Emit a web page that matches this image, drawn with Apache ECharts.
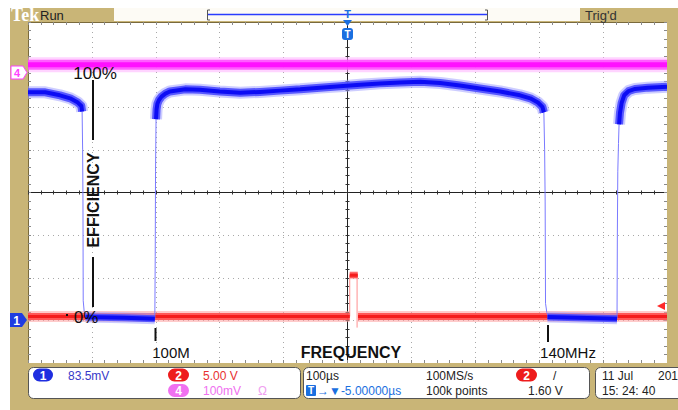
<!DOCTYPE html>
<html><head><meta charset="utf-8">
<script src="https://cdn.jsdelivr.net/npm/echarts@6/dist/echarts.min.js"></script>
<style>html,body{margin:0;padding:0;background:#fff}#c{width:678px;height:410px}</style>
</head><body><div id="c"></div>
<script>
// x: time in microseconds (100 us/div, 10 divisions), y: screen divisions (8 divisions)
const timeRange = [-500, 500];
const divRange = [-4, 4];

// Channel 4 (magenta)
const ch4Trace = [[-500, 3.0], [500, 3.0]];

// Channel 2 (red) trigger signal
const ch2Low1 = [[-500, -2.91], [3.5, -2.91]];
const ch2Rise = [[3.5, -2.91], [3.5, -1.94]];
const ch2Pulse = [[3.5, -1.94], [16, -1.94]];
const ch2Fall = [[15, -1.94], [15, -3.17]];
const ch2Low2 = [[16.5, -2.91], [500, -2.91]];

// Channel 1 (blue) efficiency trace
const ch1High1 = [[-500, 2.35], [-473, 2.35], [-450, 2.28], [-434, 2.21], [-422, 2.11], [-416.5, 2.03], [-415.3, 1.9]];
const ch1Fall1 = [[-415.3, 1.9], [-414.5, 1.0], [-414, -0.2], [-413.6, -2.54], [-412, -2.8], [-409, -2.92]];
const ch1Low1 = [[-410, -2.92], [-350, -2.94], [-301.5, -2.96]];
const ch1Rise1 = [[-301.5, -2.96], [-300.9, -1.5], [-300.4, 0.5], [-299.6, 1.72]];
const ch1High2 = [[-299.6, 1.72], [-298.8, 1.95], [-297.5, 2.08], [-295, 2.17], [-291, 2.25], [-285, 2.32],
  [-278, 2.37], [-254, 2.42], [-231, 2.41], [-200, 2.37],
  [-168, 2.34], [-137, 2.36], [-106, 2.39], [-74, 2.42], [-43, 2.46], [-12, 2.49], [20, 2.53],
  [51, 2.56], [82, 2.58], [114, 2.6], [145, 2.57], [176, 2.51], [207, 2.44], [239, 2.37],
  [270, 2.28], [286, 2.21], [298, 2.11], [305, 2.01], [307.3, 1.88]];
const ch1Fall2 = [[307.3, 1.88], [308.5, 1.0], [309.3, -0.2], [309.9, -2.6], [312, -2.82], [315, -2.92]];
const ch1Low2 = [[313, -2.92], [360, -2.94], [421.8, -2.96]];
const ch1Rise2 = [[421.8, -2.96], [422.3, -1.0], [423, 0.5], [424.1, 1.15], [425, 1.6]];
const ch1High3 = [[425, 1.6], [426.4, 1.87], [429, 2.1], [433, 2.28], [440, 2.38], [450, 2.43],
  [470, 2.46], [500, 2.48]];

const chart = echarts.init(document.getElementById('c'), null, {renderer: 'svg'});

function line(data, color, width, z, opacity) {
  return {type: 'line', data: data, symbol: 'none', silent: true, animation: false, z: z,
    lineStyle: {color: color, width: width, cap: 'butt', join: 'round', opacity: opacity == null ? 1 : opacity}};
}
function band3(data, c, z, w) {
  return [line(data, c[0], w[0], z, 0.55), line(data, c[1], w[1], z + 0.1, 0.9),
    line(data, c[2], w[2], z + 0.2, 1)];
}
const blueC = ['#a4a4ff', '#4a4aff', '#0c0cf4'];
const blueW = [12, 8, 4];
const redC = ['#ffa0a0', '#ff4a4a', '#f41c1c'];
const redW = [11, 7, 3];
const magC = ['#ffb0ff', '#ff50ff', '#ff10ff'];
const magW = [15, 10, 5];

const series = [].concat(
  band3(ch4Trace, magC, 3, magW),
  band3(ch2Low1, redC, 4, redW),
  [line(ch2Rise, '#ff9090', 1, 4)],
  band3(ch2Pulse, redC, 4, [8, 6, 3]),
  [line(ch2Fall, '#ff9090', 1, 4)],
  band3(ch2Low2, redC, 4, redW),
  band3(ch1High1, blueC, 5, blueW),
  [line(ch1Fall1, '#7a7aff', 1, 5)],
  band3(ch1Low1, blueC, 5, [11, 7, 4]),
  [line(ch1Rise1, '#7a7aff', 1, 5)],
  band3(ch1High2, blueC, 5, blueW),
  [line(ch1Fall2, '#7a7aff', 1, 5)],
  band3(ch1Low2, blueC, 5, [11, 7, 4]),
  [line(ch1Rise2, '#7a7aff', 1, 5)],
  band3(ch1High3, blueC, 5, blueW)
);

const tickGray = {color: '#8a8a8a', width: 1};
const tickDark = {color: '#333', width: 1};
function xAx(extra) {
  return Object.assign({type: 'value', min: timeRange[0], max: timeRange[1], interval: 100,
    axisLabel: {show: false}, splitLine: {show: false}}, extra);
}
function yAx(extra) {
  return Object.assign({type: 'value', min: divRange[0], max: divRange[1], interval: 1,
    axisLabel: {show: false}, splitLine: {show: false}}, extra);
}
const dotted = {show: true, lineStyle: {color: '#a8a8a8', width: 1, type: [1, 4]}};

const TAN = '#c9b577';
function txt(x, y, s, font, fill, align, extra) {
  return Object.assign({type: 'text', x: x, y: y, z: 50,
    style: {text: s, font: font, fill: fill, align: align || 'left', verticalAlign: 'middle',
      textAlign: align || 'left', textVerticalAlign: 'middle'}}, extra || {});
}
function rect(x, y, w, h, fill, stroke, r, z) {
  return {type: 'rect', z: z || 40, shape: {x: x, y: y, width: w, height: h, r: r || 0},
    style: {fill: fill, stroke: stroke || null, lineWidth: stroke ? 1 : 0}};
}
function badge(x, y, w, h, fill, s) {
  return [rect(x, y, w, h, fill, null, h / 2, 45),
    txt(x + w / 2, y + h / 2 + 0.5, s, 'bold 12px "Liberation Sans", Arial', '#fff', 'center')];
}
function poly(points, fill, stroke, z) {
  return {type: 'polygon', z: z || 45, shape: {points: points},
    style: {fill: fill, stroke: stroke || null, lineWidth: stroke ? 1 : 0}};
}
function seg(x1, y1, x2, y2, color, w) {
  return {type: 'line', z: 50, shape: {x1: x1, y1: y1, x2: x2, y2: y2},
    style: {stroke: color, lineWidth: w}};
}

const F = '12px "Liberation Sans", Arial, sans-serif';
const graphic = [].concat(
  [
    // frame
    rect(10, 8, 668, 14, TAN),
    rect(10, 8, 18, 402, TAN),
    rect(667, 8, 11, 402, TAN),
    rect(10, 363, 668, 47, TAN),
    // top bar
    txt(11, 15, 'Tek', 'bold 18px "Liberation Serif", serif', '#ffffff'),
    txt(40, 15, 'Run', '13px "Liberation Sans", Arial', '#222'),
    rect(114, 8, 466, 13, '#fdfbf5'),
    seg(208, 14.5, 487, 14.5, '#2a3cff', 1.5),
    seg(207.5, 10, 207.5, 20, '#555', 1), seg(207.5, 10, 210, 10, '#555', 1), seg(207.5, 20, 210, 20, '#555', 1),
    seg(487.5, 10, 487.5, 20, '#555', 1), seg(487.5, 10, 485, 10, '#555', 1), seg(487.5, 20, 485, 20, '#555', 1),
    txt(585, 15, "Trig'd", '13px "Liberation Sans", Arial', '#333'),
    txt(347.5, 14, 'T', 'bold 11px "Liberation Sans", Arial', '#1a6fe0', 'center'),
    poly([[343, 20], [352, 20], [347.5, 26]], '#1a6fe0'),
    rect(342, 28, 11, 12, '#1a6fe0', null, 3, 45),
    txt(347.5, 34.5, 'T', 'bold 10px "Liberation Sans", Arial', '#fff', 'center'),
    // left channel markers
    poly([[11, 66], [23, 66], [27, 72.5], [23, 79], [11, 79]], '#ffffff', '#ff40ff'),
    txt(17, 72.5, '4', 'bold 11px "Liberation Sans", Arial', '#ff40ff', 'center'),
    poly([[10, 313], [22, 313], [27, 320], [22, 327], [10, 327]], '#1f3ce0'),
    txt(16.5, 320.5, '1', 'bold 12px "Liberation Sans", Arial', '#fff', 'center'),
    // trigger level arrow
    poly([[657, 306], [665, 302], [665, 310]], '#ff2a2a'),
    // annotations
    txt(95, 73, '100%', '17px "Liberation Sans", Arial', '#111', 'center'),
    seg(93, 80, 93, 140, '#111', 2),
    txt(93, 200, 'EFFICIENCY', 'bold 16px "Liberation Sans", Arial', '#111', 'center', {rotation: Math.PI / 2}),
    seg(93, 257, 93, 307, '#111', 2),
    rect(66, 314, 2, 2, '#111', null, 0, 50),
    txt(86, 317, '0%', '17px "Liberation Sans", Arial', '#111', 'center'),
    seg(155.5, 328, 155.5, 341, '#111', 2),
    txt(171, 352, '100M', '15px "Liberation Sans", Arial', '#111', 'center'),
    txt(351, 352, 'FREQUENCY', 'bold 16px "Liberation Sans", Arial', '#111', 'center'),
    seg(548, 325, 548, 342, '#111', 2),
    txt(568, 352, '140MHz', '15px "Liberation Sans", Arial', '#111', 'center'),
    // status panels
    rect(28.5, 367.5, 272, 31, '#ffffff', '#555', 5),
    rect(303.5, 367.5, 286, 31, '#ffffff', '#555', 5),
    rect(595.5, 367.5, 100, 31, '#ffffff', '#555', 5)
  ],
  badge(33, 368.5, 20, 13, '#1f2ee0', '1'),
  [txt(68, 375.5, '83.5mV', F, '#3838c8')],
  badge(168, 368.5, 21, 13, '#ee1c1c', '2'),
  [txt(203, 375.5, '5.00 V', F, '#e83030')],
  badge(168, 384, 21, 13, '#f070f0', '4'),
  [txt(203, 390.5, '100mV', F, '#f070f0'), txt(258, 390.5, 'Ω', F, '#f0a0f0')],
  [
    txt(306, 375.5, '100µs', F, '#222'),
    rect(306, 385, 10, 11, '#1a6fe0', null, 1, 45),
    txt(311, 390.8, 'T', 'bold 10px "Liberation Sans", Arial', '#fff', 'center'),
    txt(317, 390.5, '→▼-5.00000µs', F, '#1a6fe0'),
    txt(426, 375.5, '100MS/s', F, '#222'),
    txt(426, 390.5, '100k points', F, '#222')
  ],
  badge(516, 368.5, 21, 13, '#ee1c1c', '2'),
  [
    txt(553, 375.5, '/', F, '#222'),
    txt(528, 390.5, '1.60 V', F, '#222'),
    txt(602, 375.5, '11 Jul', F, '#222'),
    txt(658, 375.5, '201', F, '#222'),
    txt(602, 390.5, '15: 24: 40', F, '#222')
  ]
);

chart.setOption({
  animation: false,
  backgroundColor: '#ffffff',
  grid: {left: 28, right: 11, top: 22, bottom: 47, containLabel: false},
  xAxis: [
    xAx({position: 'bottom', axisLine: {onZero: false, lineStyle: {color: '#7a6a3c'}},
      axisTick: {inside: true, length: 3, lineStyle: tickGray},
      minorTick: {show: true, splitNumber: 5, length: 3, lineStyle: tickGray}, splitLine: dotted}),
    xAx({position: 'top', axisLine: {onZero: false, lineStyle: {color: '#7a6a3c'}},
      axisTick: {inside: true, length: 3, lineStyle: tickGray},
      minorTick: {show: true, splitNumber: 5, length: 3, lineStyle: tickGray}}),
    xAx({position: 'bottom', axisLine: {onZero: true, onZeroAxisIndex: 0, lineStyle: {color: '#222'}},
      axisTick: {inside: true, length: 2, lineStyle: tickDark},
      minorTick: {show: true, splitNumber: 5, length: 2, lineStyle: tickDark}}),
    xAx({position: 'bottom', axisLine: {onZero: true, onZeroAxisIndex: 0, lineStyle: {color: '#222'}},
      axisTick: {inside: false, length: 2, lineStyle: tickDark},
      minorTick: {show: true, splitNumber: 5, length: 2, lineStyle: tickDark}})
  ],
  yAxis: [
    yAx({position: 'left', axisLine: {onZero: false, lineStyle: {color: '#7a6a3c'}},
      axisTick: {inside: true, length: 3, lineStyle: tickGray},
      minorTick: {show: true, splitNumber: 5, length: 3, lineStyle: tickGray}, splitLine: dotted}),
    yAx({position: 'right', axisLine: {onZero: false, lineStyle: {color: '#7a6a3c'}},
      axisTick: {inside: true, length: 3, lineStyle: tickGray},
      minorTick: {show: true, splitNumber: 5, length: 3, lineStyle: tickGray}}),
    yAx({position: 'left', axisLine: {onZero: true, onZeroAxisIndex: 0, lineStyle: {color: '#222'}},
      axisTick: {inside: true, length: 2, lineStyle: tickDark},
      minorTick: {show: true, splitNumber: 5, length: 2, lineStyle: tickDark}}),
    yAx({position: 'left', axisLine: {onZero: true, onZeroAxisIndex: 0, lineStyle: {color: '#222'}},
      axisTick: {inside: false, length: 2, lineStyle: tickDark},
      minorTick: {show: true, splitNumber: 5, length: 2, lineStyle: tickDark}})
  ],
  series: series,
  graphic: {elements: graphic}
});
</script></body></html>
